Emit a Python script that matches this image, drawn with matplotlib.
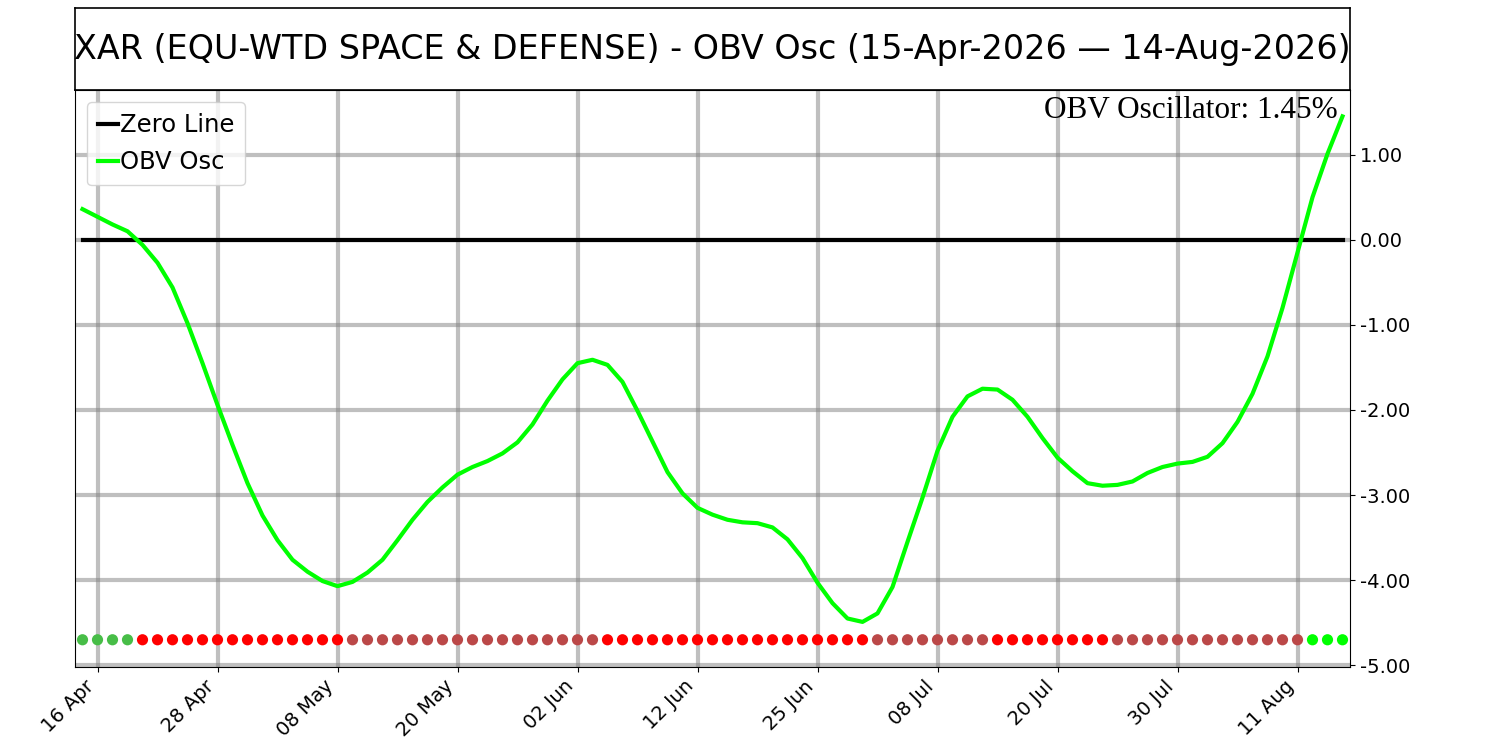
import numpy as np
import pandas as pd
import matplotlib
matplotlib.use("Agg")
import matplotlib.pyplot as plt

# trading days 15-Apr-2026 .. 14-Aug-2026 (US market holidays removed)
holidays = ["2026-05-25", "2026-06-19", "2026-07-03"]
dates = pd.bdate_range("2026-04-15", "2026-08-14")
dates = dates[~dates.isin(pd.to_datetime(holidays))]

obv_osc = [
    0.36, 0.27, 0.18, 0.10, -0.06, -0.27, -0.56, -0.98, -1.45, -1.94,
    -2.41, -2.86, -3.24, -3.53, -3.76, -3.90, -4.01, -4.07, -4.02, -3.91,
    -3.76, -3.53, -3.29, -3.08, -2.91, -2.76, -2.67, -2.60, -2.51, -2.38,
    -2.17, -1.89, -1.64, -1.45, -1.41, -1.47, -1.67, -2.01, -2.37, -2.73,
    -2.98, -3.15, -3.23, -3.29, -3.32, -3.33, -3.38, -3.52, -3.74, -4.03,
    -4.27, -4.45, -4.49, -4.39, -4.08, -3.55, -3.03, -2.48, -2.08, -1.84,
    -1.75, -1.76, -1.88, -2.08, -2.33, -2.56, -2.72, -2.86, -2.89, -2.88,
    -2.84, -2.74, -2.67, -2.63, -2.61, -2.55, -2.39, -2.14, -1.81, -1.37,
    -0.80, -0.15, 0.50, 1.01, 1.45,
]

# state per day: pf = positive falling, nf = negative falling,
# nr = negative rising, pr = positive rising
states = (["pf"] * 4 + ["nf"] * 14 + ["nr"] * 17 + ["nf"] * 18 + ["nr"] * 8
          + ["nf"] * 8 + ["nr"] * 13 + ["pr"] * 3)
state_colors = {"pf": "#47BD47", "nf": "#FF0000", "nr": "#BB4848", "pr": "#00FF00"}

tick_step = 8
tick_start = 1

x = np.arange(len(obv_osc))
fig = plt.figure(figsize=(15, 7.5), dpi=100)

# title box
tax = fig.add_axes([0.05, 1 - 90 / 750, 0.85, 82 / 750])
tax.set_xticks([])
tax.set_yticks([])
for s in tax.spines.values():
    s.set_linewidth(1.2)
tax.text(0.5, 0.5, "XAR (EQU-WTD SPACE & DEFENSE) - OBV Osc (15-Apr-2026 \u2014 14-Aug-2026)",
         ha="center", va="center", fontsize=24, transform=tax.transAxes)

ax = fig.add_axes([0.05, 83 / 750, 0.85, 1 - 90 / 750 - 83 / 750])
ax.plot(x, np.zeros(len(x)), color="black", lw=3, label="Zero Line", zorder=3)
ax.plot(x, obv_osc, color="#00FF00", lw=3, label="OBV Osc", zorder=4)

dot_y = -4.7
ax.scatter(x, np.full(len(x), dot_y), c=[state_colors[s] for s in states],
           s=65, zorder=5, linewidths=0)

ax.set_xlim(-0.5, len(x) - 0.5)
ax.set_ylim(-5.02, 1.76)

ticks = x[tick_start::tick_step]
ax.set_xticks(ticks)
ax.set_xticklabels([dates[i].strftime("%d %b") for i in ticks],
                   rotation=45, ha="right", fontsize=14)
ax.set_yticks(np.arange(-5, 2, 1))
ax.yaxis.set_major_formatter(matplotlib.ticker.FormatStrFormatter("%.2f"))
ax.yaxis.tick_right()
ax.tick_params(axis="y", labelsize=14)
ax.grid(True, color="gray", alpha=0.5, lw=3)
ax.set_axisbelow(True)

ax.legend(loc="upper left", fontsize=17.5, handlelength=0.8, handletextpad=0.1,
          borderaxespad=0.5, borderpad=0.45, labelspacing=0.55)
ax.text(0.99, 0.99, "OBV Oscillator: 1.45%", transform=ax.transAxes,
        ha="right", va="top", fontsize=22.5, family="Liberation Serif")

fig.savefig("out.png", dpi=100)
